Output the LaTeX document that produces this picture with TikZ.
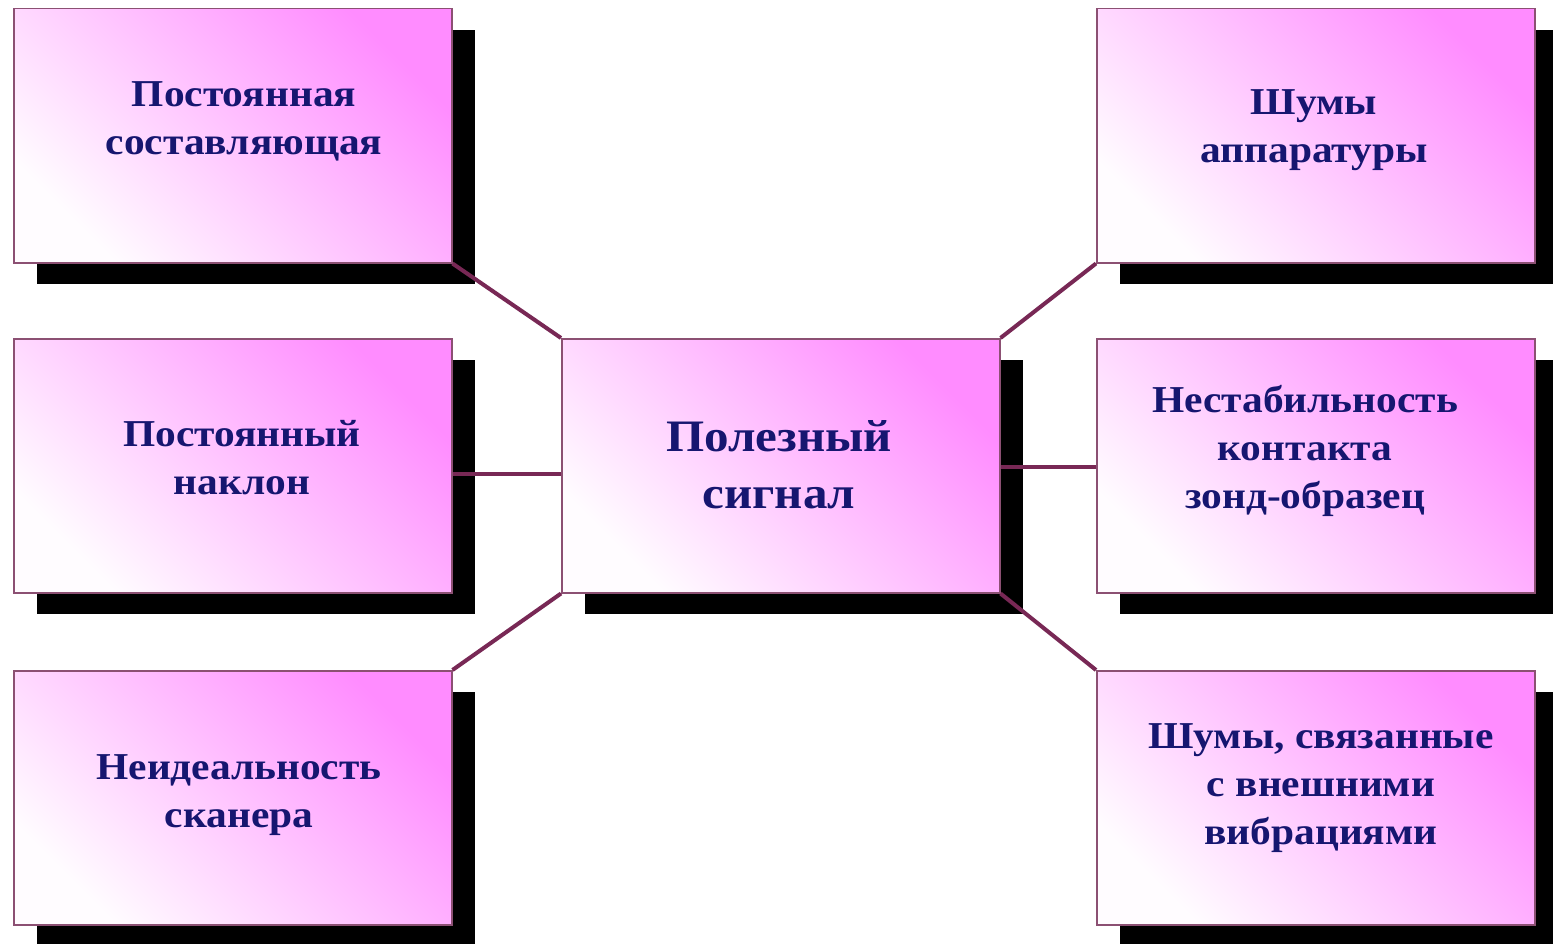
\documentclass[tikz,border=0pt]{standalone}
\usepackage{fontspec}
\setmainfont[FakeStretch=1.09]{Liberation Serif}
\usetikzlibrary{shadows}
\definecolor{pinkA}{RGB}{255,140,255}
\definecolor{pinkB}{RGB}{255,252,255}
\definecolor{edgec}{RGB}{140,80,115}
\definecolor{linkc}{RGB}{120,40,85}
\definecolor{txtc}{RGB}{22,22,112}
\begin{document}
\begin{tikzpicture}[x=1pt,y=-1pt,
  box/.style={rectangle, draw=edgec, line width=1.5pt, minimum width=438pt, minimum height=254pt,
    inner sep=0pt, anchor=north west, top color=pinkA, bottom color=pinkB, shading angle=-45,
    general shadow={fill=black, shadow xshift=23pt, shadow yshift=-21pt}},
  lbl/.style={font=\bfseries\fontsize{38}{48}\selectfont, text=txtc, align=center, inner sep=0pt},
  biglbl/.style={font=\bfseries\fontsize{45}{57}\selectfont, text=txtc, align=center, inner sep=0pt},
  link/.style={draw=linkc, line width=4pt}]
\useasboundingbox (0,0) rectangle (1553,944);
\clip (0,0) rectangle (1553,944);
\fill[white] (0,0) rectangle (1553,944);
% boxes
\node[box] (tl) at (13,8) {};
\node[box] (ml) at (13,338) {};
\node[box] (bl) at (13,670) {};
\node[box] (c) at (561,338) {};
\node[box] (tr) at (1096,8) {};
\node[box] (mr) at (1096,338) {};
\node[box] (br) at (1096,670) {};
% connectors
\draw[link] (tl.south east) -- (c.north west);
\draw[link] ([yshift=-8pt]ml.east) -- ([yshift=-8pt]c.west);
\draw[link] (bl.north east) -- (c.south west);
\draw[link] (tr.south west) -- (c.north east);
\draw[link] ([yshift=-1pt]mr.west) -- ([yshift=-1pt]c.east);
\draw[link] (br.north west) -- (c.south east);
% texts
\node[lbl] (ttl) at (244,121) {Постоянная\\составляющая};
\node[lbl] (tml) at (242,458) {Постоянный\\наклон};
\node[lbl] (tbl) at (239,795) {Неидеальность\\сканера};
\node[biglbl] (tc) at (779,465) {Полезный\\сигнал};
\node[lbl] (ttr) at (1314,130) {Шумы\\аппаратуры};
\node[lbl] (tmr) at (1305,451) {Нестабильность\\контакта\\зонд-образец};
\node[lbl] (tbr) at (1321,788) {Шумы, связанные\\с внешними\\вибрациями};
\end{tikzpicture}
\end{document}
